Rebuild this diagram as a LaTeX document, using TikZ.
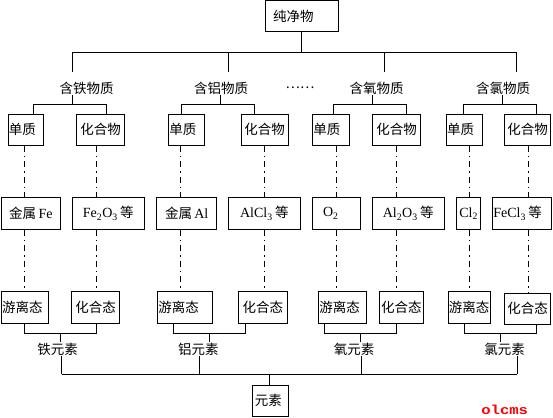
\documentclass[tikz,border=0pt]{standalone}
\usepackage{fontspec}
\usepackage{graphicx}
\setmainfont{Liberation Serif}
\newfontfamily\cjk{Noto Sans CJK SC}
\newfontfamily\lmono{Liberation Mono}
\newcommand\lat[1]{{\rmfamily\fontsize{14}{15}\selectfont #1}}
\newcommand\bx[5]{\pgfmathsetmacro\bxW{#4-#2}\pgfmathsetmacro\bxH{#5-#3}\pgfmathsetmacro\bxX{(#2+#4)/2}\pgfmathsetmacro\bxY{(#3+#5)/2}\node[box,minimum width=\bxW pt,minimum height=\bxH pt] (#1) at (\bxX,\bxY)}
\newcommand\bxl[6][1]{\pgfmathsetmacro\bxW{#5-#3}\pgfmathsetmacro\bxH{#6-#4}\pgfmathsetmacro\bxT{#5-#3-2*#1}\pgfmathsetmacro\bxX{(#3+#5)/2}\pgfmathsetmacro\bxY{(#4+#6)/2}\node[box,minimum width=\bxW pt,minimum height=\bxH pt,inner xsep=#1pt,text width=\bxT pt,align=left] (#2) at (\bxX,\bxY)}
\tikzset{
  box/.style={draw, inner sep=0pt, font=\cjk\fontsize{13.5}{15}\selectfont},
  lab/.style={inner sep=0pt, font=\cjk\fontsize{13.5}{15}\selectfont},
  dd/.style={dash pattern=on 6pt off 4pt on 1.5pt off 4pt}
}
\begin{document}
\begin{tikzpicture}[x=1pt,y=-1pt,line width=1pt]
\useasboundingbox (0,0) rectangle (553,417);
% top
\bxl[8]{top}{265}{1}{338}{32} {纯净物};
% labels
\node[lab] (L1) at (86.7,88) {含铁物质};
\node[lab] (L2) at (221,88) {含铝物质};
\node[lab] (dots) at (300,88) {……};
\node[lab] (L3) at (376.5,88) {含氧物质};
\node[lab] (L4) at (503,88) {含氯物质};
% row 1
\bxl{a1}{8}{114.3}{43.3}{145} {单质};
\bx{a2}{76.7}{114.3}{124.7}{145} {化合物};
\bxl{b1}{168.3}{114.3}{204.3}{145} {单质};
\bx{b2}{241}{114.3}{288.3}{145} {化合物};
\bxl{c1}{312.3}{114.3}{349}{145} {单质};
\bx{c2}{372.3}{114.3}{420.7}{145} {化合物};
\bxl{d1}{446}{114.3}{482.3}{145} {单质};
\bx{d2}{504.3}{114.3}{550.7}{145} {化合物};
% row 2
\bx{a3}{1}{197.3}{60.7}{229.3} {金属\lat{\,Fe}};
\bx{a4}{72.3}{197.3}{144.3}{229.3} {\lat{Fe\textsubscript{2}O\textsubscript{3}\,}等};
\bx{b3}{156.7}{197.3}{216.7}{229.3} {金属\lat{\,Al}};
\bx{b4}{228.7}{197.3}{300}{229.3} {\lat{AlCl\textsubscript{3}\,}等};
\bxl[10.7]{c3}{312.3}{197.3}{360.3}{229.3} {\lat{O\textsubscript{2}}};
\bx{c4}{372.3}{197.3}{444}{229.3} {\lat{Al\textsubscript{2}O\textsubscript{3}\,}等};
\bx{d3}{456.7}{197.3}{480.7}{229.3} {\lat{Cl\textsubscript{2}}};
\bxl{d4}{492.3}{197.3}{551.7}{229.3} {\lat{FeCl\textsubscript{3}\,}等};
% row 3
\bxl{a5}{1}{291}{48.7}{323.3} {游离态};
\bx{a6}{71.7}{291}{119.3}{323.3} {化合态};
\bxl{b5}{157.3}{291}{212.3}{323.3} {游离态};
\bx{b6}{238.3}{291}{287.3}{323.3} {化合态};
\bxl{c5}{318.3}{291}{366.7}{323.3} {游离态};
\bx{c6}{379.3}{291}{423.3}{323.3} {化合态};
\bx{d5}{448.3}{291}{490}{323.3} {游离态};
\bx{d6}{504.3}{293.3}{550.7}{324.3} {化合态};
% element labels
\node[lab] (E1) at (57.5,349) {铁元素};
\node[lab] (E2) at (198.3,349) {铝元素};
\node[lab] (E3) at (354,349) {氧元素};
\node[lab] (E4) at (504.7,349) {氯元素};
% bottom box
\bxl[2.5]{el}{252.3}{385}{288.3}{416} {元素};
% watermark
\node[inner sep=0pt, font=\lmono\bfseries\fontsize{13}{13}\selectfont, text=red] (wm) at (504.7,409.7) {\scalebox{1.2}[1]{olcms}};

% ---- top tree
\coordinate (busL) at (72.3,52.3);
\coordinate (busR) at (516.7,52.3);
\draw (top.south) -- (top.south |- busL);
\draw (busL) -- (busR);
\foreach \x [count=\i] in {72.3,228,384,516.7}{
  \coordinate (t\i) at (\x,72);
  \draw (t\i |- busL) -- (t\i);
}
% under labels
\foreach \L/\u/\sa/\sb/\A/\B in {L1/72.3/33/106.7/a1/a2, L2/220/181.7/254.3/b1/b2, L3/372.3/333.3/406.7/c1/c2, L4/502.3/463.3/536.7/d1/d2}{
  \coordinate (u) at (\u,104.3);
  \coordinate (s1) at (\sa,104.3);
  \coordinate (s2) at (\sb,104.3);
  \draw (\L.south -| u) -- (u);
  \draw (\A.north -| s1) -- (s1) -- (s2) -- (\B.north -| s2);
}
% dash-dot columns
\foreach \x/\P/\Q/\R in {24.3/a1/a3/a5, 96.7/a2/a4/a6, 180.3/b1/b3/b5, 264.3/b2/b4/b6, 336.7/c1/c3/c5, 396.3/c2/c4/c6, 469/d1/d3/d5, 528.3/d2/d4/d6}{
  \coordinate (k) at (\x,0);
  \draw[dd] (\P.south -| k) -- (\Q.north -| k);
  \draw[dd] (\Q.south -| k) -- (\R.north -| k);
}
% bottom brackets
\foreach \ma/\mb/\n/\q/\A/\B/\E in {24.3/96.7/60.7/61.7/a5/a6/E1, 173.7/245.7/209.3/199.3/b5/b6/E2, 324.3/396.3/360.7/361/c5/c6/E3, 464.3/536.7/500.7/517.3/d5/d6/E4}{
  \coordinate (m1) at (\ma,333.3);
  \coordinate (m2) at (\mb,333.3);
  \coordinate (n) at (\n,333.3);
  \coordinate (q) at (\q,374.3);
  \draw (\A.south -| m1) -- (m1) -- (m2) -- (\B.south -| m2);
  \draw (n) -- (\E.north -| n);
  \draw (\E.south -| q) -- (q);
}
\coordinate (qL) at (61.7,374.3);
\coordinate (qR) at (517.3,374.3);
\coordinate (q0) at (269.3,374.3);
\draw (qL) -- (qR);
\draw (q0) -- (el.north -| q0);
\end{tikzpicture}
\end{document}
